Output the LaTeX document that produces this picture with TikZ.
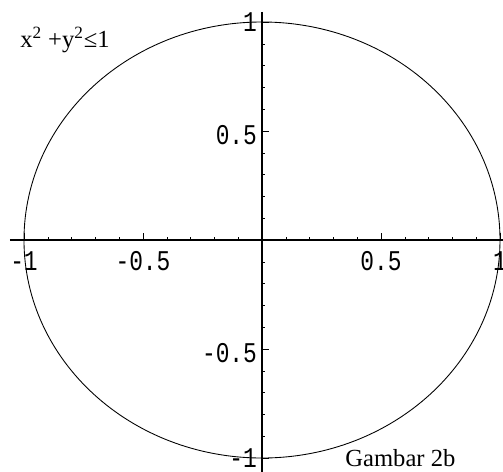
\documentclass[tikz,border=0pt]{standalone}
\usepackage{fontspec}
\setmainfont{Liberation Serif}
\setmonofont{Liberation Mono}
\usepackage{graphicx}
\usetikzlibrary{positioning}

\newcommand{\ticknum}[1]{\scalebox{1}[1.25]{\ttfamily\fontsize{13}{13}\selectfont #1}}

\begin{document}
\begin{tikzpicture}[x=4.76cm,y=4.36cm,
    axisline/.style={line width=0.9pt},
    ticklab/.style={inner sep=0pt}]
    \useasboundingbox (-1.1008,-1.0596) rectangle (1.0126,1.1009);
    % --- boundary of the region ---
    \draw[line width=0.5pt] (0,0) ellipse[x radius=4.76cm,y radius=4.36cm];
    % --- axes ---
    \draw[axisline] (-1.059,0) -- (1.03,0);
    \draw[axisline] (0,1.046) -- (0,-1.08);
    \foreach \k in {-10,...,10} {
      \draw[line width=0.3pt] (\k/10,0) -- ++(0,1.5pt);
      \draw[line width=0.3pt] (0,\k/10) -- ++(1.5pt,0);
    }
    \foreach \t in {-1,-0.5,0.5,1} {
      \draw[line width=0.5pt] (\t,0) -- ++(0,4pt);
      \draw[line width=0.5pt] (0,\t) -- ++(4pt,0);
    }
    % --- tick labels ---
    \node[ticklab,anchor=north] (xm1) at (-1,-0.05) {\ticknum{-1}};
    \node[ticklab,anchor=north] (xmh) at (-0.5,-0.05) {\ticknum{-0.5}};
    \node[ticklab,anchor=north] (xph) at (0.5,-0.05) {\ticknum{0.5}};
    \node[ticklab,anchor=north] (xp1) at (1,-0.05) {\ticknum{1}};
    \node[ticklab,anchor=east] (yp1) at (-0.02,1.0) {\ticknum{1}};
    \node[ticklab,anchor=east] (yph) at (-0.02,0.48) {\ticknum{0.5}};
    \node[ticklab,anchor=east] (ymh) at (-0.02,-0.52) {\ticknum{-0.5}};
    \node[ticklab,anchor=east] (ym1) at (-0.02,-1.0) {\ticknum{-1}};
    % --- texts ---
    \node[inner sep=0pt,anchor=base west,font=\fontsize{14}{16}\selectfont]
      (ineq) at (-1.017,0.881) {x\textsuperscript{2} +y\textsuperscript{2}≤1};
    \node[inner sep=0pt,anchor=base west,font=\fontsize{14}{16}\selectfont]
      (caption) at (0.349,-1.041) {Gambar 2b};
  \end{tikzpicture}
\end{document}
